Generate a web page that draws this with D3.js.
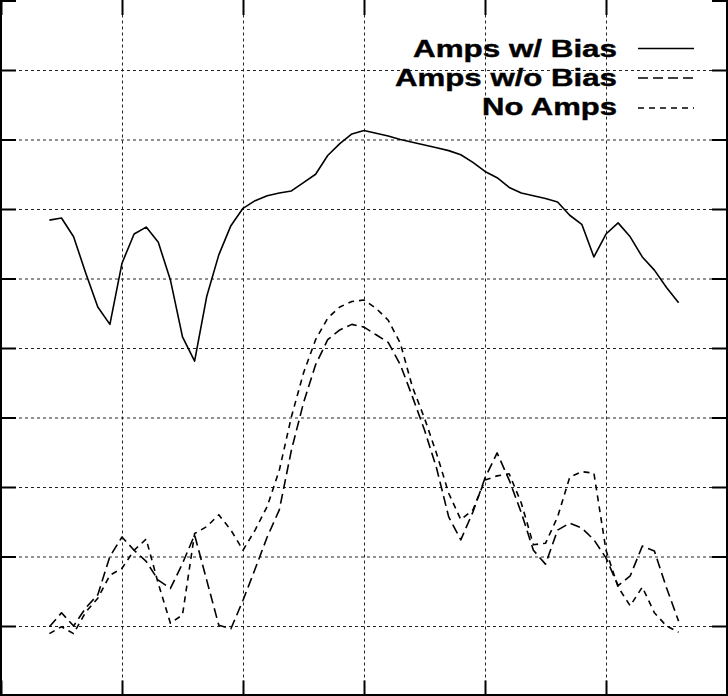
<!DOCTYPE html>
<html>
<head>
<meta charset="utf-8">
<script src="https://cdn.jsdelivr.net/npm/d3@7"></script>
<style>
  html, body { margin: 0; padding: 0; background: #fff; }
  svg { display: block; }
</style>
</head>
<body>
<svg id="chart" width="728" height="696"></svg>
<script>
// x positions of the samples (grid every 10 units)
const xVals = [-26, -25, -24, -23, -22, -21, -20, -19, -18, -17, -16, -15, -14, -13, -12, -11, -10,
  -9, -8, -7, -6, -5, -4, -3, -2, -1, 0, 1, 2, 3, 4, 5, 6, 7, 8, 9, 10,
  11, 12, 13, 14, 15, 16, 17, 18, 19, 20, 21, 22, 23, 24, 25, 26];

const ampsWithBias = [68.4, 68.7, 66.0, 60.8, 55.9, 53.4, 62.2, 66.4, 67.4, 65.2,
  59.8, 51.6, 48.1, 57.4, 63.4, 67.6, 70.1, 71.2, 71.9, 72.3,
  72.6, 73.8, 75.0, 77.7, 79.4, 80.8, 81.3, 80.9, 80.5, 80.0,
  79.6, 79.2, 78.8, 78.4, 77.8, 76.7, 75.4, 74.5, 73.1, 72.3,
  71.9, 71.5, 71.0, 69.1, 67.8, 63.1, 66.4, 68.0, 66.0, 63.1,
  61.2, 58.7, 56.5];

const ampsNoBias = [9.9, 11.9, 10.0, 12.6, 14.5, 20.0, 22.8, 20.9, 19.3, 16.6,
  15.4, 19.0, 23.1, 16.6, 10.1, 9.6, 13.7, 18.2, 22.8, 26.7,
  35.3, 42.1, 47.6, 51.2, 52.6, 53.4, 53.0, 51.9, 50.8, 47.6,
  43.0, 38.2, 32.7, 25.7, 22.4, 26.4, 31.3, 34.9, 31.0, 26.3,
  20.9, 18.9, 23.8, 24.8, 24.1, 22.4, 19.8, 15.8, 17.2, 21.5,
  20.8, 15.5, 10.7];

const noAmps = [8.9, 9.9, 8.9, 12.0, 14.0, 17.3, 18.3, 20.9, 22.5, 16.1,
  10.4, 11.6, 23.3, 24.3, 26.0, 23.8, 20.9, 23.8, 27.2, 32.4,
  40.1, 46.4, 51.2, 54.3, 55.9, 56.7, 56.9, 55.7, 54.0, 50.7,
  44.4, 39.9, 34.8, 29.1, 25.3, 26.7, 31.0, 31.6, 31.9, 27.7,
  21.7, 21.9, 25.7, 31.4, 32.2, 32.0, 20.9, 15.6, 12.9, 15.6,
  11.9, 10.0, 9.1];

const seriesNames = ['Amps w/ Bias', 'Amps w/o Bias', 'No Amps'];
const xTicks = [-30, -20, -10, 0, 10, 20, 30];
const yTicks = [0, 10, 20, 30, 40, 50, 60, 70, 80, 90, 100];

const svg = d3.select('#chart');
const plotL = 1, plotR = 727, plotT = 0.5, plotB = 695.5;

const x = d3.scaleLinear().domain([-30, 30]).range([plotL, plotR]);
const y = d3.scaleLinear().domain([0, 100]).range([plotB, plotT]);

// dotted grid
svg.append('g')
  .attr('transform', `translate(0,${plotB})`)
  .call(d3.axisBottom(x).tickValues(xTicks.slice(1, -1)).tickSize(-(plotB - plotT)).tickFormat(''))
  .call(g => g.select('.domain').remove())
  .selectAll('line')
  .attr('stroke', '#222').attr('stroke-width', 1).attr('stroke-dasharray', '3,3');

svg.append('g')
  .attr('transform', `translate(${plotL},0)`)
  .call(d3.axisLeft(y).tickValues(yTicks.slice(1, -1)).tickSize(-(plotR - plotL)).tickFormat(''))
  .call(g => g.select('.domain').remove())
  .selectAll('line')
  .attr('stroke', '#222').attr('stroke-width', 1).attr('stroke-dasharray', '3,3');

// inward tick marks on all four sides
const tickLen = 15;
const axes = [
  [d3.axisTop(x).tickValues(xTicks), `translate(0,0)`],
  [d3.axisBottom(x).tickValues(xTicks), `translate(0,${plotB})`],
  [d3.axisLeft(y).tickValues(yTicks), `translate(${plotL},0)`],
  [d3.axisRight(y).tickValues(yTicks), `translate(${plotR},0)`]
];
axes.forEach(([ax, tr]) => {
  svg.append('g')
    .attr('transform', tr)
    .call(ax.tickSize(-tickLen).tickSizeOuter(0).tickFormat(''))
    .call(g => g.select('.domain').remove())
    .selectAll('line')
    .attr('stroke', '#000').attr('stroke-width', 2);
});

// frame (top edge is cropped off in the reference)
svg.append('path')
  .attr('d', `M${plotL},-2V${plotB - 0.5}H${plotR}V-2`)
  .attr('fill', 'none')
  .attr('stroke', '#000')
  .attr('stroke-width', 2);

// data lines
const series = [
  { name: seriesNames[0], values: ampsWithBias, dash: null },
  { name: seriesNames[1], values: ampsNoBias, dash: '10,5' },
  { name: seriesNames[2], values: noAmps, dash: '6,5' }
];

const line = d3.line()
  .x((d, i) => x(xVals[i]))
  .y(d => y(d));

svg.selectAll('path.series')
  .data(series)
  .enter().append('path')
  .attr('class', 'series')
  .attr('d', d => line(d.values))
  .attr('fill', 'none')
  .attr('stroke', '#000')
  .attr('stroke-width', 1.6)
  .attr('stroke-linejoin', 'round')
  .attr('stroke-dasharray', d => d.dash);

// legend (text is horizontally stretched in the reference)
const legendBase = [57, 86, 115];
const legendLine = [48.5, 78, 108];
const legendWidth = [204, 222, 135];

const legend = svg.append('g');
series.forEach((s, i) => {
  legend.append('text')
    .attr('x', 617)
    .attr('y', legendBase[i])
    .attr('text-anchor', 'end')
    .attr('font-family', 'Liberation Sans, Arial, Helvetica, sans-serif')
    .attr('font-weight', 'bold')
    .attr('font-size', 23)
    .attr('stroke', '#000')
    .attr('stroke-width', 0.4)
    .attr('textLength', legendWidth[i])
    .attr('lengthAdjust', 'spacingAndGlyphs')
    .text(s.name);
  legend.append('line')
    .attr('x1', 638).attr('x2', 694)
    .attr('y1', legendLine[i]).attr('y2', legendLine[i])
    .attr('stroke', '#000')
    .attr('stroke-width', 1.6)
    .attr('stroke-dasharray', s.dash);
});
</script>
</body>
</html>
